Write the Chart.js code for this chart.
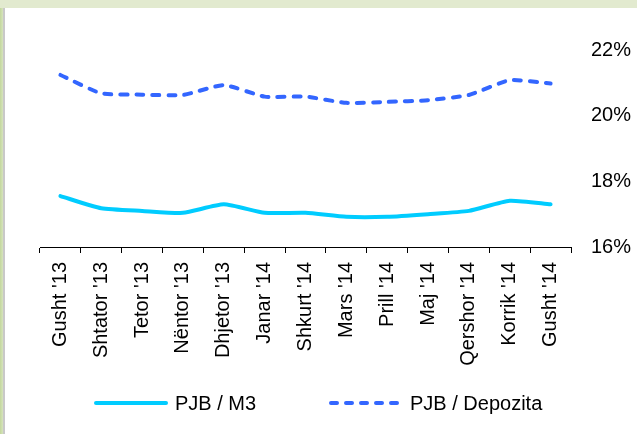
<!DOCTYPE html>
<html>
<head>
<meta charset="utf-8">
<script src="https://cdn.jsdelivr.net/npm/chart.js@4/dist/chart.umd.min.js"></script>
<style>
    html, body { margin: 0; padding: 0; }
    body { width: 637px; height: 434px; background: #e2eacf; position: relative; overflow: hidden; font-family: 'Liberation Sans', Arial, sans-serif; }
    .edge { position: absolute; left: 0; top: 8px; width: 3px; height: 426px; background: linear-gradient(to right, #c3d79d, #d6e4bd); }
    .panel { position: absolute; left: 3px; top: 8px; right: 0; bottom: 0; background: #fff; border-left: 2px solid #c9c9c9; }
    #chart { position: absolute; left: 0; top: 0; }
    .legend-item { position: absolute; top: 391px; height: 24px; display: flex; align-items: center; font-size: 20px; color: #000; white-space: nowrap; }
    .legend-item svg { margin-right: 7px; }
</style>
</head>
<body>
<div class="edge"></div>
<div class="panel"></div>
<canvas id="chart" width="637" height="434"></canvas>
<div id="legend"></div>
<script>
    // Data
    const months = ["Gusht '13", "Shtator '13", "Tetor '13", "Nëntor '13", "Dhjetor '13", "Janar '14",
        "Shkurt '14", "Mars '14", "Prill '14", "Maj '14", "Qershor '14", "Korrik '14", "Gusht '14"];
    const pjbM3 = [17.55, 17.18, 17.10, 17.04, 17.30, 17.04, 17.04, 16.92, 16.92, 17.00, 17.10, 17.41, 17.30];
    const pjbDepozita = [21.24, 20.68, 20.64, 20.63, 20.93, 20.58, 20.58, 20.39, 20.42, 20.47, 20.63, 21.08, 20.98];
    const yTicks = [16, 18, 20, 22];

    Chart.defaults.font.family = "'Liberation Sans', Arial, sans-serif";
    Chart.defaults.color = '#000';

    const chart = new Chart(document.getElementById('chart'), {
        type: 'line',
        data: {
            labels: months,
            datasets: [{
                label: 'PJB / M3',
                data: pjbM3,
                borderColor: '#00ccff',
                borderWidth: 4,
                borderCapStyle: 'round',
                borderJoinStyle: 'round',
                pointRadius: 0,
                tension: 0.18
            }, {
                label: 'PJB / Depozita',
                data: pjbDepozita,
                borderColor: '#3366ff',
                borderWidth: 4,
                borderDash: [7, 9],
                borderCapStyle: 'round',
                borderJoinStyle: 'round',
                pointRadius: 0,
                tension: 0.18
            }]
        },
        options: {
            responsive: false,
            animation: false,
            devicePixelRatio: 1,
            layout: { padding: { left: 0, right: 0, top: 50, bottom: 37 } },
            plugins: {
                tooltip: { enabled: false },
                legend: { display: false }
            },
            scales: {
                x: {
                    offset: true,
                    grid: { display: true, drawOnChartArea: false, offset: true, tickLength: 6, color: '#000', lineWidth: 1 },
                    border: { display: true, color: '#000', width: 1 },
                    ticks: { autoSkip: false, minRotation: 90, maxRotation: 90, padding: 9, font: { size: 20 } },
                    afterFit: s => { s.height = 150; }
                },
                y: {
                    position: 'right',
                    min: 16,
                    max: 22,
                    afterBuildTicks: s => { s.ticks = yTicks.map(v => ({ value: v })); },
                    grid: { display: false },
                    border: { display: false },
                    ticks: { padding: 12, font: { size: 20 }, callback: v => v + '%' },
                    afterFit: s => { s.width = 66; }
                },
                yL: {
                    position: 'left',
                    display: true,
                    grid: { display: false },
                    border: { display: false },
                    ticks: { display: false },
                    afterFit: s => { s.width = 40; }
                }
            }
        }
    });

    // Legend built from the dataset styles
    const legendX = [96, 331];
    const legend = document.getElementById('legend');
    chart.data.datasets.forEach((ds, i) => {
        const item = document.createElement('div');
        item.className = 'legend-item';
        item.style.left = (legendX[i] - 2) + 'px';
        const dash = ds.borderDash ? `stroke-dasharray="6 9"` : '';
        item.innerHTML = `<svg width="74" height="8"><line x1="2" y1="4" x2="72" y2="4" stroke="${ds.borderColor}" stroke-width="4" stroke-linecap="round" ${dash}/></svg><span>${ds.label}</span>`;
        legend.appendChild(item);
    });
</script>
</body>
</html>
